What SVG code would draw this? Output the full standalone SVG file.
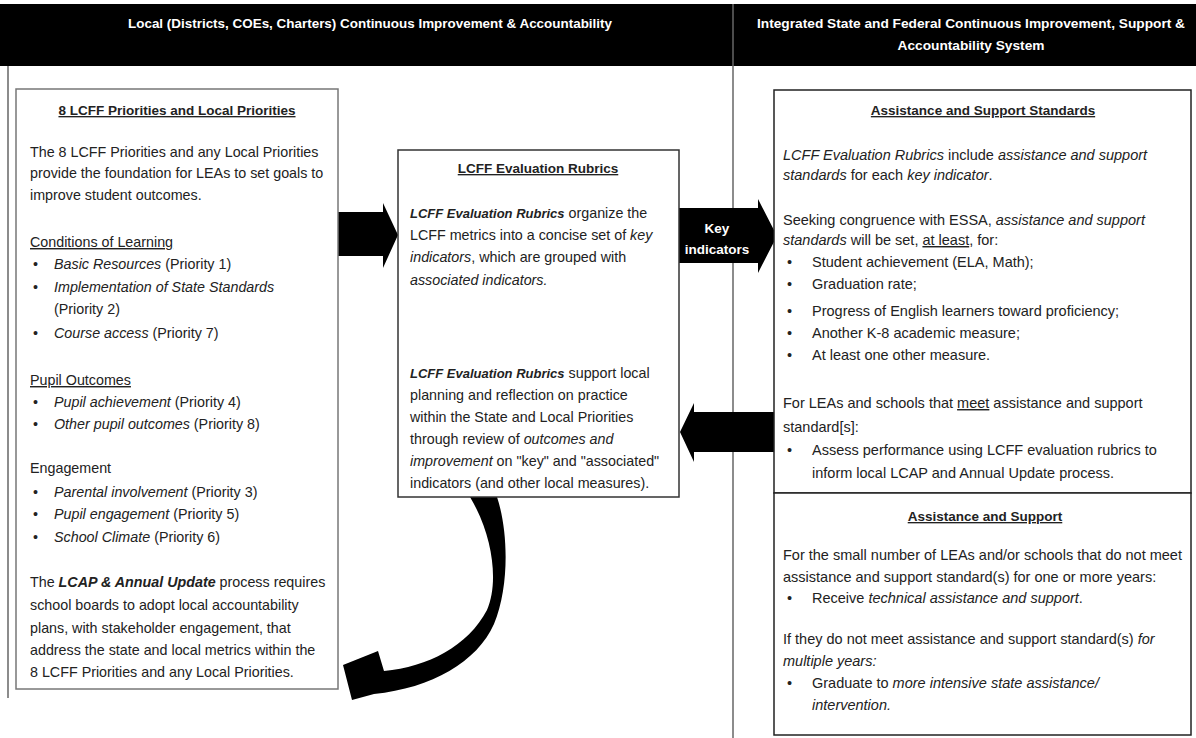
<svg xmlns="http://www.w3.org/2000/svg" width="1196" height="738" viewBox="0 0 1196 738">
<style>
text{font-family:"Liberation Sans",Arial,sans-serif;fill:#222;font-size:14.3px}
.hd{fill:#fff;font-weight:bold;font-size:13.5px}
.t{font-weight:bold;text-decoration:underline;font-size:13.5px}
.u{text-decoration:underline}
.i{font-style:italic}
.bi{font-style:italic;font-weight:bold}
.m .bi{font-size:13px}
.r text{font-size:14.5px}
.r text.t{font-size:13.5px}
.box{fill:#fff}
.ar{fill:#000}
</style>
<rect x="0" y="0" width="1196" height="738" fill="#fff"/>
<g id="header">
<rect x="0" y="4" width="1196" height="62" fill="#000"/>
<line x1="733" y1="4" x2="733" y2="738" stroke="#666" stroke-width="1.5"/>
<line x1="8" y1="66" x2="8" y2="698" stroke="#666" stroke-width="1.5"/>
<text class="hd" x="370" y="28" text-anchor="middle" textLength="484" lengthAdjust="spacingAndGlyphs">Local (Districts, COEs, Charters) Continuous Improvement &amp; Accountability</text>
<text class="hd" x="971" y="28" text-anchor="middle" textLength="428" lengthAdjust="spacingAndGlyphs">Integrated State and Federal Continuous Improvement, Support &amp;</text>
<text class="hd" x="971" y="50" text-anchor="middle" textLength="147" lengthAdjust="spacingAndGlyphs">Accountability System</text>
</g>
<g id="connectors">
<path class="ar" d="M337 212 H383 V203 L398 235 L383 268 V256 H337 Z"/>
<path class="ar" d="M679 208 H758 V199 L777 236 L758 273 V263 H679 Z"/>
<text class="hd" x="717" y="233" text-anchor="middle">Key</text>
<text class="hd" x="717" y="254" text-anchor="middle">indicators</text>
<path class="ar" d="M774 412 H694 V403 L680 432 L694 462 V452 H774 Z"/>
<path class="ar" d="M470 497 L497 497 C508 530 510 585 494 624 C477 662 432 688 374 694 L352 700 L343 665 L378 651 L384 671 C428 667 468 646 487 610 C499 583 493 535 470 497 Z"/>
</g>
<g id="lcff-priorities">
<rect class="box" x="16" y="89" width="322" height="600" stroke="#777" stroke-width="1.5"/>
<text class="t" x="177" y="115" text-anchor="middle">8 LCFF Priorities and Local Priorities</text>
<text x="30" y="157">The 8 LCFF Priorities and any Local Priorities</text>
<text x="30" y="178">provide the foundation for LEAs to set goals to</text>
<text x="30" y="200">improve student outcomes.</text>
<text class="u" x="30" y="247">Conditions of Learning</text>
<text x="33" y="269">•</text><text x="54" y="269"><tspan class="i">Basic Resources</tspan> (Priority 1)</text>
<text x="33" y="292">•</text><text x="54" y="292" class="i">Implementation of State Standards</text>
<text x="54" y="314">(Priority 2)</text>
<text x="33" y="338">•</text><text x="54" y="338"><tspan class="i">Course access</tspan> (Priority 7)</text>
<text class="u" x="30" y="385">Pupil Outcomes</text>
<text x="33" y="407">•</text><text x="54" y="407"><tspan class="i">Pupil achievement</tspan> (Priority 4)</text>
<text x="33" y="429">•</text><text x="54" y="429"><tspan class="i">Other pupil outcomes</tspan> (Priority 8)</text>
<text x="30" y="473">Engagement</text>
<text x="33" y="497">•</text><text x="54" y="497"><tspan class="i">Parental involvement</tspan> (Priority 3)</text>
<text x="33" y="519">•</text><text x="54" y="519"><tspan class="i">Pupil engagement</tspan> (Priority 5)</text>
<text x="33" y="542">•</text><text x="54" y="542"><tspan class="i">School Climate</tspan> (Priority 6)</text>
<text x="30" y="587">The <tspan class="bi">LCAP &amp; Annual Update</tspan> process requires</text>
<text x="30" y="610">school boards to adopt local accountability</text>
<text x="30" y="633">plans, with stakeholder engagement, that</text>
<text x="30" y="655">address the state and local metrics within the</text>
<text x="30" y="677">8 LCFF Priorities and any Local Priorities.</text>
</g>
<g id="evaluation-rubrics" class="m">
<rect class="box" x="398" y="150" width="281" height="347" stroke="#333" stroke-width="1.5"/>
<text class="t" x="538" y="173" text-anchor="middle">LCFF Evaluation Rubrics</text>
<text x="410" y="218"><tspan class="bi">LCFF Evaluation Rubrics</tspan> organize the</text>
<text x="410" y="240">LCFF metrics into a concise set of <tspan class="i">key</tspan></text>
<text x="410" y="262"><tspan class="i">indicators</tspan>, which are grouped with</text>
<text x="410" y="285" class="i">associated indicators.</text>
<text x="410" y="378"><tspan class="bi">LCFF Evaluation Rubrics</tspan> support local</text>
<text x="410" y="400">planning and reflection on practice</text>
<text x="410" y="422">within the State and Local Priorities</text>
<text x="410" y="444">through review of <tspan class="i">outcomes and</tspan></text>
<text x="410" y="466"><tspan class="i">improvement</tspan> on "key" and "associated"</text>
<text x="410" y="488">indicators (and other local measures).</text>
</g>
<g id="assistance-standards" class="r">
<rect class="box" x="774" y="90" width="417" height="403" stroke="#222" stroke-width="1.5"/>
<text class="t" x="983" y="115" text-anchor="middle">Assistance and Support Standards</text>
<text x="783" y="160"><tspan class="i">LCFF Evaluation Rubrics</tspan> include <tspan class="i">assistance and support</tspan></text>
<text x="783" y="180"><tspan class="i">standards</tspan> for each <tspan class="i">key indicator</tspan>.</text>
<text x="783" y="225">Seeking congruence with ESSA, <tspan class="i">assistance and support</tspan></text>
<text x="783" y="245"><tspan class="i">standards</tspan> will be set, <tspan class="u">at least</tspan>, for:</text>
<text x="787" y="267">•</text><text x="812" y="267">Student achievement (ELA, Math);</text>
<text x="787" y="289">•</text><text x="812" y="289">Graduation rate;</text>
<text x="787" y="316">•</text><text x="812" y="316">Progress of English learners toward proficiency;</text>
<text x="787" y="338">•</text><text x="812" y="338">Another K-8 academic measure;</text>
<text x="787" y="360">•</text><text x="812" y="360">At least one other measure.</text>
<text x="783" y="408">For LEAs and schools that <tspan class="u">meet</tspan> assistance and support</text>
<text x="783" y="432">standard[s]:</text>
<text x="787" y="455">•</text><text x="812" y="455">Assess performance using LCFF evaluation rubrics to</text>
<text x="812" y="478">inform local LCAP and Annual Update process.</text>
</g>
<g id="assistance-support" class="r">
<rect class="box" x="774" y="493" width="417" height="242" stroke="#222" stroke-width="1.5"/>
<text class="t" x="985" y="521" text-anchor="middle">Assistance and Support</text>
<text x="783" y="560">For the small number of LEAs and/or schools that do not meet</text>
<text x="783" y="582">assistance and support standard(s) for one or more years:</text>
<text x="787" y="603">•</text><text x="812" y="603">Receive <tspan class="i">technical assistance and support</tspan>.</text>
<text x="783" y="644">If they do not meet assistance and support standard(s) <tspan class="i">for</tspan></text>
<text x="783" y="666" class="i">multiple years:</text>
<text x="787" y="688">•</text><text x="812" y="688">Graduate to <tspan class="i">more intensive state assistance/</tspan></text>
<text x="812" y="710" class="i">intervention.</text>
</g>
</svg>
